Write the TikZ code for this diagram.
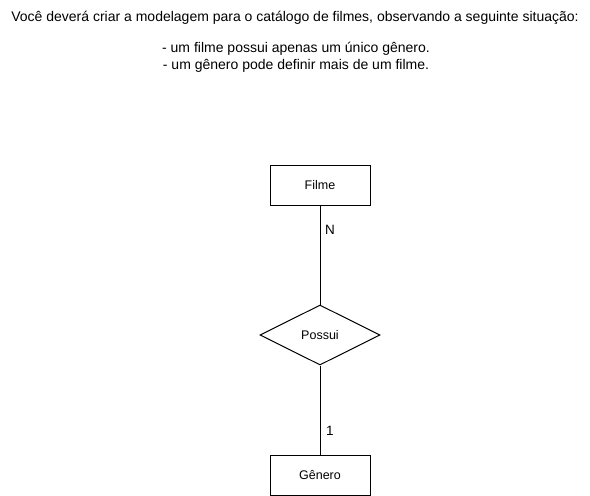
\documentclass[tikz,border=0pt]{standalone}
\usepackage{fontspec}
\setmainfont{Liberation Sans}
\usetikzlibrary{shapes.geometric}
\begin{document}
\begin{tikzpicture}[x=1pt,y=-1pt,
  entity/.style={draw,line width=1pt,minimum width=100pt,minimum height=40pt,inner sep=0pt,font=\fontsize{12.5}{14}\selectfont},
  rel/.style={draw,line width=1pt,diamond,aspect=2,minimum width=120pt,minimum height=60pt,inner sep=0pt,font=\fontsize{12.5}{14}\selectfont},
  conn/.style={line width=1pt},
  card/.style={font=\fontsize{13.5}{15}\selectfont,inner sep=0pt},
  txt/.style={font=\fontsize{14}{17}\selectfont,inner sep=0pt,align=center}]
\useasboundingbox (0,0) rectangle (590,496);
\node[txt] (title) at (295,18) {Você deverá criar a modelagem para o catálogo de filmes, observando a seguinte situação:};
\node[txt] (rules) at (296,57.5) {- um filme possui apenas um único gênero.\\- um gênero pode definir mais de um filme.};
\node[entity] (filme) at (320,185) {Filme};
\node[rel] (possui) at (320,335) {Possui};
\node[entity] (genero) at (320,475) {Gênero};
\draw[conn] (filme) -- (possui);
\draw[conn] (possui) -- (genero);
\node[card] (n) at (330,230) {N};
\node[card] (one) at (330,431) {1};
\end{tikzpicture}
\end{document}
